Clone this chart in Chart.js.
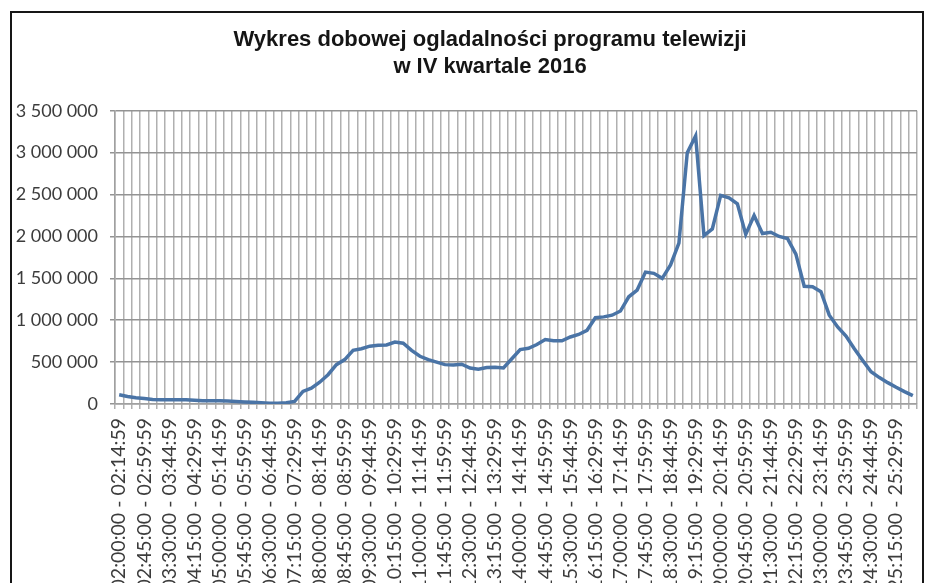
<!DOCTYPE html>
<html>
<head>
<meta charset="utf-8">
<script src="https://cdn.jsdelivr.net/npm/chart.js@4/dist/chart.umd.min.js"></script>
<style>
  html, body { margin: 0; padding: 0; background: #fff; overflow: hidden; }
  #wrap { position: relative; width: 926px; height: 583px; overflow: hidden; }
  #frame {
    position: absolute; left: 10px; top: 11px; width: 914px; height: 700px;
    box-sizing: border-box; border: 2px solid #161616; border-bottom: none;
    pointer-events: none; z-index: 2;
  }
  #box { position: absolute; left: 0; top: 0; width: 980px; height: 620px; }
</style>
</head>
<body>
<div id="wrap">
  <div id="box"><canvas id="tv-chart"></canvas></div>
  <div id="frame"></div>
</div>
<script>
const titleLines = ["Wykres dobowej ogladalności programu telewizji", "w IV kwartale 2016"];

const timeSlots = [
  "02:00:00 - 02:14:59", "02:15:00 - 02:29:59", "02:30:00 - 02:44:59", "02:45:00 - 02:59:59",
  "03:00:00 - 03:14:59", "03:15:00 - 03:29:59", "03:30:00 - 03:44:59", "03:45:00 - 03:59:59",
  "04:00:00 - 04:14:59", "04:15:00 - 04:29:59", "04:30:00 - 04:44:59", "04:45:00 - 04:59:59",
  "05:00:00 - 05:14:59", "05:15:00 - 05:29:59", "05:30:00 - 05:44:59", "05:45:00 - 05:59:59",
  "06:00:00 - 06:14:59", "06:15:00 - 06:29:59", "06:30:00 - 06:44:59", "06:45:00 - 06:59:59",
  "07:00:00 - 07:14:59", "07:15:00 - 07:29:59", "07:30:00 - 07:44:59", "07:45:00 - 07:59:59",
  "08:00:00 - 08:14:59", "08:15:00 - 08:29:59", "08:30:00 - 08:44:59", "08:45:00 - 08:59:59",
  "09:00:00 - 09:14:59", "09:15:00 - 09:29:59", "09:30:00 - 09:44:59", "09:45:00 - 09:59:59",
  "10:00:00 - 10:14:59", "10:15:00 - 10:29:59", "10:30:00 - 10:44:59", "10:45:00 - 10:59:59",
  "11:00:00 - 11:14:59", "11:15:00 - 11:29:59", "11:30:00 - 11:44:59", "11:45:00 - 11:59:59",
  "12:00:00 - 12:14:59", "12:15:00 - 12:29:59", "12:30:00 - 12:44:59", "12:45:00 - 12:59:59",
  "13:00:00 - 13:14:59", "13:15:00 - 13:29:59", "13:30:00 - 13:44:59", "13:45:00 - 13:59:59",
  "14:00:00 - 14:14:59", "14:15:00 - 14:29:59", "14:30:00 - 14:44:59", "14:45:00 - 14:59:59",
  "15:00:00 - 15:14:59", "15:15:00 - 15:29:59", "15:30:00 - 15:44:59", "15:45:00 - 15:59:59",
  "16:00:00 - 16:14:59", "16:15:00 - 16:29:59", "16:30:00 - 16:44:59", "16:45:00 - 16:59:59",
  "17:00:00 - 17:14:59", "17:15:00 - 17:29:59", "17:30:00 - 17:44:59", "17:45:00 - 17:59:59",
  "18:00:00 - 18:14:59", "18:15:00 - 18:29:59", "18:30:00 - 18:44:59", "18:45:00 - 18:59:59",
  "19:00:00 - 19:14:59", "19:15:00 - 19:29:59", "19:30:00 - 19:44:59", "19:45:00 - 19:59:59",
  "20:00:00 - 20:14:59", "20:15:00 - 20:29:59", "20:30:00 - 20:44:59", "20:45:00 - 20:59:59",
  "21:00:00 - 21:14:59", "21:15:00 - 21:29:59", "21:30:00 - 21:44:59", "21:45:00 - 21:59:59",
  "22:00:00 - 22:14:59", "22:15:00 - 22:29:59", "22:30:00 - 22:44:59", "22:45:00 - 22:59:59",
  "23:00:00 - 23:14:59", "23:15:00 - 23:29:59", "23:30:00 - 23:44:59", "23:45:00 - 23:59:59",
  "24:00:00 - 24:14:59", "24:15:00 - 24:29:59", "24:30:00 - 24:44:59", "24:45:00 - 24:59:59",
  "25:00:00 - 25:14:59", "25:15:00 - 25:29:59", "25:30:00 - 25:44:59", "25:45:00 - 25:59:59"
];

// viewers per 15-minute slot
const viewers = [
  110000, 90000, 75000, 65000, 55000, 50000, 50000, 50000,
  50000, 45000, 40000, 40000, 40000, 35000, 30000, 25000,
  20000, 15000, 10000, 10000, 15000, 30000, 150000, 190000,
  260000, 350000, 470000, 530000, 640000, 660000, 690000, 700000,
  705000, 740000, 725000, 640000, 570000, 530000, 500000, 470000,
  465000, 475000, 430000, 415000, 435000, 440000, 430000, 540000,
  650000, 665000, 710000, 770000, 755000, 755000, 800000, 830000,
  880000, 1030000, 1040000, 1060000, 1110000, 1280000, 1360000, 1575000,
  1560000, 1500000, 1660000, 1920000, 3000000, 3200000, 2010000, 2090000,
  2490000, 2460000, 2390000, 2025000, 2250000, 2035000, 2050000, 2000000,
  1975000, 1790000, 1405000, 1400000, 1340000, 1060000, 920000, 810000,
  660000, 520000, 385000, 315000, 255000, 200000, 148000, 100000
];

const yTicks = [0, 500000, 1000000, 1500000, 2000000, 2500000, 3000000, 3500000];

const spaced = v => String(v).replace(/\B(?=(\d{3})+(?!\d))/g, ' ');

const ctx = document.getElementById('tv-chart');
new Chart(ctx, {
  type: 'line',
  data: {
    labels: timeSlots,
    datasets: [{
      data: viewers,
      borderColor: '#4a74a6',
      borderWidth: 3.5,
      pointRadius: 0,
      tension: 0,
      fill: false
    }]
  },
  options: {
    responsive: true,
    maintainAspectRatio: false,
    animation: false,
    layout: { padding: 0 },
    plugins: {
      legend: { display: false },
      tooltip: { enabled: false },
      title: {
        display: true,
        text: titleLines,
        color: '#151515',
        font: { family: 'Liberation Sans', size: 22, weight: 'bold', lineHeight: 1.2 },
        padding: { top: 27, bottom: 31 }
      }
    },
    scales: {
      x: {
        offset: true,
        grid: { offset: true, color: '#b0b0b0', lineWidth: 1.5, tickLength: 5 },
        border: { color: '#a0a0a0', width: 1.5 },
        ticks: {
          autoSkip: false,
          minRotation: 90,
          maxRotation: 90,
          padding: 9,
          color: '#3c3c3c',
          font: { family: 'Lato', size: 19.5 },
          callback: (v, i) => (i % 3 === 0 ? timeSlots[i] : '')
        },
        afterFit: s => { s.height = 216; }
      },
      y: {
        min: 0,
        max: 3500000,
        afterBuildTicks: s => { s.ticks = yTicks.map(v => ({ value: v })); },
        grid: { color: '#939393', lineWidth: 1.5, tickLength: 5 },
        border: { color: '#a0a0a0', width: 1.5 },
        ticks: {
          padding: 12,
          color: '#3c3c3c',
          font: { family: 'Lato', size: 18 },
          callback: v => spaced(v)
        },
        afterFit: s => { s.width = 115; }
      },
      // empty right-hand axis, only keeps the plot's right edge at the frame
      spacer: {
        type: 'linear',
        position: 'right',
        display: true,
        grid: { display: false },
        border: { display: false },
        ticks: { display: false },
        afterFit: s => { s.width = 63; }
      }
    }
  }
});
</script>
</body>
</html>
